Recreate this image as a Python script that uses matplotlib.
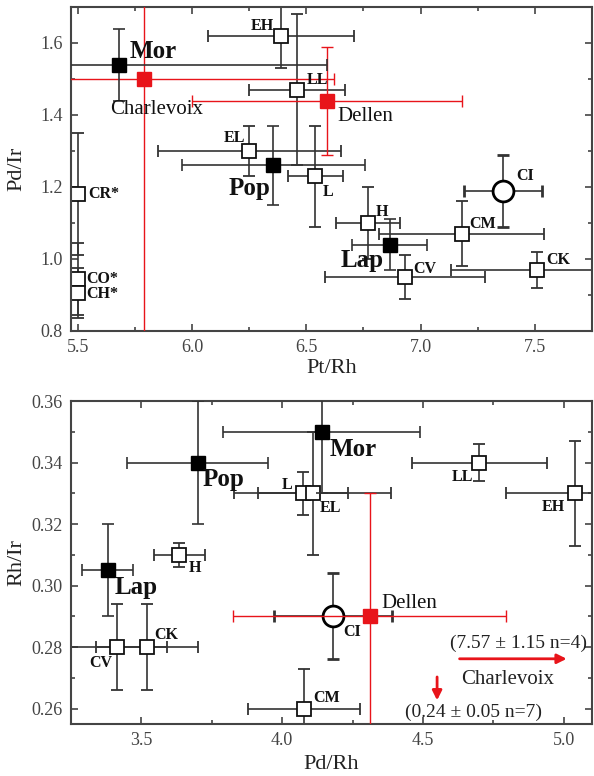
import matplotlib
matplotlib.use("Agg")
import matplotlib.pyplot as plt
from matplotlib.ticker import MultipleLocator, FormatStrFormatter

plt.rcParams['font.family'] = ['Liberation Serif', 'DejaVu Serif']

# ---- top panel: Pt/Rh vs Pd/Ir ----
top_open_names = ["EH", "LL", "EL", "L", "H", "CV", "CM", "CK", "CR*", "CO*", "CH*"]
top_open_x = [6.39, 6.46, 6.25, 6.54, 6.77, 6.93, 7.18, 7.51, 5.50, 5.50, 5.50]
top_open_y = [1.62, 1.47, 1.30, 1.23, 1.10, 0.95, 1.07, 0.97, 1.18, 0.945, 0.905]
top_open_xerr = [0.32, 0.21, 0.40, 0.12, 0.14, 0.35, 0.36, 0.375, 0, 0, 0]
top_open_yerr = [0.09, 0.21, 0.07, 0.14, 0.10, 0.06, 0.09, 0.05, 0.17, 0.10, 0.07]

top_fill_names = ["Mor", "Pop", "Lap"]
top_fill_x = [5.68, 6.355, 6.865]
top_fill_y = [1.54, 1.26, 1.04]
top_fill_xerr = [0.91, 0.40, 0.165]
top_fill_yerr = [0.10, 0.11, 0.07]

top_ci = [7.36, 1.19, 0.17, 0.10]

top_red_names = ["Charlevoix", "Dellen"]
top_red_x = [5.79, 6.59]
top_red_y = [1.50, 1.44]
top_red_xerr = [0.83, 0.59]
top_red_yerr = [1.0, 0.15]

# ---- bottom panel: Pd/Rh vs Rh/Ir ----
bot_open_names = ["L", "EL", "LL", "EH", "H", "CV", "CK", "CM"]
bot_open_x = [4.073, 4.108, 4.70, 5.04, 3.635, 3.415, 3.52, 4.077]
bot_open_y = [0.33, 0.33, 0.34, 0.33, 0.31, 0.28, 0.28, 0.26]
bot_open_xerr = [0.16, 0.28, 0.24, 0.245, 0.09, 0.175, 0.18, 0.20]
bot_open_yerr = [0.007, 0.02, 0.006, 0.017, 0.004, 0.014, 0.014, 0.013]

bot_fill_names = ["Pop", "Mor", "Lap"]
bot_fill_x = [3.70, 4.14, 3.38]
bot_fill_y = [0.34, 0.35, 0.305]
bot_fill_xerr = [0.25, 0.35, 0.09]
bot_fill_yerr = [0.02, 0.02, 0.015]

bot_ci = [4.18, 0.29, 0.21, 0.014]

bot_red_names = ["Dellen"]
bot_red_x = [4.311]
bot_red_y = [0.29]
bot_red_xerr = [0.485]
bot_red_yerr = [0.04]

# label offsets in pixels (dx, dy, ha)
top_offsets = {
    "EH": (-7, 10, "right"), "LL": (10, 10, "left"), "EL": (-4, 13, "right"),
    "L": (7, -16, "left"), "H": (8, 11, "left"), "CV": (9, 8, "left"),
    "CM": (8, 10, "left"), "CK": (9, 10, "left"), "CR*": (10, 0, "left"),
    "CO*": (8, 0, "left"), "CH*": (8, -1, "left"),
    "Mor": (11, 13, "left"), "Pop": (-3, -23, "right"), "Lap": (-6, -16, "right"),
    "CI": (13, 15, "left"), "Charlevoix": (-34, -31, "left"), "Dellen": (10, -16, "left"),
}
bot_offsets = {
    "L": (-10, 8, "right"), "EL": (7, -15, "left"), "LL": (-6, -14, "right"),
    "EH": (-10, -14, "right"), "H": (9, -13, "left"), "CV": (-5, -16, "right"),
    "CK": (7, 12, "left"), "CM": (9, 11, "left"),
    "Pop": (5, -17, "left"), "Mor": (8, -18, "left"), "Lap": (7, -17, "left"),
    "CI": (10, -16, "left"), "Dellen": (12, 13, "left"),
}

DARK = "#333333"
RED = "#e8141a"


def label(ax, name, x, y, off, size, weight):
    dx, dy, ha = off[name]
    ax.annotate(name, (x, y), xytext=(dx, dy), textcoords="offset pixels",
                ha=ha, va="center", fontsize=size, fontweight=weight,
                color="#111111", zorder=10)


def draw_panel(ax, opn, fil, ci, red, off):
    # red points (drawn below the black markers)
    for n, x, y, xe, ye in zip(*red):
        ax.errorbar(x, y, xerr=xe, yerr=ye, fmt="s", color=RED, ms=9.5,
                    mec=RED, elinewidth=1.0, capsize=4, capthick=1.0, zorder=3)
        label(ax, n, x, y, off, 15, "normal")
    for n, x, y, xe, ye in zip(*opn):
        ax.errorbar(x, y, xerr=xe if xe else None, yerr=ye, fmt="s", color=DARK,
                    mfc="white", mec="#111111", mew=1.3, ms=10, elinewidth=1.2,
                    capsize=4, capthick=1.2, zorder=2)
        label(ax, n, x, y, off, 11.5, "bold")
    for n, x, y, xe, ye in zip(*fil):
        ax.errorbar(x, y, xerr=xe, yerr=ye, fmt="s", color=DARK, mfc="black",
                    mec="black", ms=9.5, elinewidth=1.2, capsize=4, capthick=1.2,
                    zorder=4)
        label(ax, n, x, y, off, 18, "bold")
    x, y, xe, ye = ci
    ax.errorbar(x, y, xerr=xe, yerr=ye, fmt="o", color=DARK, mfc="white",
                mec="black", mew=2.0, ms=15, elinewidth=1.2, capsize=4,
                capthick=1.2, zorder=2)
    label(ax, "CI", x, y, off, 11.5, "bold")


def style(ax, xlim, ylim, xmaj, xmin, ymaj, ymin, yfmt, xlabel, ylabel, xlab_y):
    ax.set_xlim(*xlim)
    ax.set_ylim(*ylim)
    ax.xaxis.set_major_locator(MultipleLocator(xmaj))
    ax.xaxis.set_minor_locator(MultipleLocator(xmin))
    ax.yaxis.set_major_locator(MultipleLocator(ymaj))
    ax.yaxis.set_minor_locator(MultipleLocator(ymin))
    ax.xaxis.set_major_formatter(FormatStrFormatter("%.1f"))
    ax.yaxis.set_major_formatter(FormatStrFormatter(yfmt))
    ax.tick_params(which="both", direction="in", top=True, right=True,
                   colors="#444444", labelsize=13, width=1.2)
    ax.tick_params(which="major", length=5, pad=6)
    ax.tick_params(which="minor", length=3)
    for s in ax.spines.values():
        s.set_color("#444444")
        s.set_linewidth(1.5)
    ax.set_xlabel(xlabel, fontsize=16, color="#222222")
    ax.set_ylabel(ylabel, fontsize=16, color="#222222")
    ax.xaxis.set_label_coords(0.5, xlab_y)
    ax.yaxis.set_label_coords(-0.085, 0.5)


fig = plt.figure(figsize=(5.94, 7.76), dpi=100)
ax1 = fig.add_axes([0.1195, 0.5735, 0.8771, 0.4175])
ax2 = fig.add_axes([0.1195, 0.0670, 0.8771, 0.4162])

draw_panel(ax1,
           (top_open_names, top_open_x, top_open_y, top_open_xerr, top_open_yerr),
           (top_fill_names, top_fill_x, top_fill_y, top_fill_xerr, top_fill_yerr),
           top_ci,
           (top_red_names, top_red_x, top_red_y, top_red_xerr, top_red_yerr),
           top_offsets)
style(ax1, (5.47, 7.75), (0.8, 1.7), 0.5, 0.25, 0.2, 0.1, "%.1f",
      "Pt/Rh", "Pd/Ir", -0.085)

draw_panel(ax2,
           (bot_open_names, bot_open_x, bot_open_y, bot_open_xerr, bot_open_yerr),
           (bot_fill_names, bot_fill_x, bot_fill_y, bot_fill_xerr, bot_fill_yerr),
           bot_ci,
           (bot_red_names, bot_red_x, bot_red_y, bot_red_xerr, bot_red_yerr),
           bot_offsets)
style(ax2, (3.25, 5.10), (0.255, 0.36), 0.5, 0.25, 0.02, 0.01, "%.2f",
      "Pd/Rh", "Rh/Ir", -0.095)

# Charlevoix values outside the bottom panel range
ax2.annotate("", xy=(5.02, 0.2762), xytext=(4.62, 0.2762),
             arrowprops=dict(arrowstyle="-|>", color=RED, lw=2, mutation_scale=14))
ax2.text(4.84, 0.2812, "(7.57 \u00b1 1.15 n=4)", ha="center", va="center",
         fontsize=14, color="#222222")
ax2.text(4.80, 0.2696, "Charlevoix", ha="center", va="center",
         fontsize=15, color="#222222")
ax2.annotate("", xy=(4.55, 0.2618), xytext=(4.55, 0.2712),
             arrowprops=dict(arrowstyle="-|>", color=RED, lw=2, mutation_scale=14))
ax2.text(4.68, 0.2589, "(0.24 \u00b1 0.05 n=7)", ha="center", va="center",
         fontsize=14, color="#222222")

fig.savefig("out.png", dpi=100)
